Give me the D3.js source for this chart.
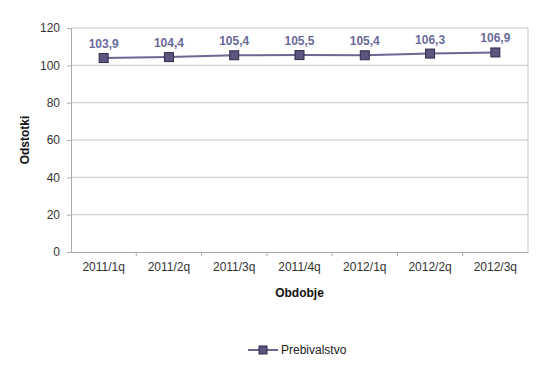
<!DOCTYPE html>
<html>
<head>
<meta charset="utf-8">
<script src="https://cdn.jsdelivr.net/npm/d3@7"></script>
<style>
  body { margin: 0; background: #fff; }
  text { font-family: "Liberation Sans", Arial, sans-serif; }
</style>
</head>
<body>
<div id="chart"></div>
<script>
const periods = ["2011/1q", "2011/2q", "2011/3q", "2011/4q", "2012/1q", "2012/2q", "2012/3q"];
const prebivalstvo = [103.9, 104.4, 105.4, 105.5, 105.4, 106.3, 106.9];
const yTicks = [0, 20, 40, 60, 80, 100, 120];
const seriesName = "Prebivalstvo";

const width = 545, height = 370;
const margin = { top: 28, right: 17, bottom: 118, left: 71 };
const w = width - margin.left - margin.right;
const h = height - margin.top - margin.bottom;

const svg = d3.select("#chart").append("svg")
    .attr("width", width)
    .attr("height", height);

const g = svg.append("g")
    .attr("transform", "translate(" + margin.left + "," + margin.top + ")");

const x = d3.scaleBand().domain(periods).range([0, w]);
const y = d3.scaleLinear().domain([0, 120]).range([h, 0]);

// gridlines
g.selectAll(".grid")
    .data(yTicks.filter(d => d > 0))
    .enter().append("line")
    .attr("x1", 0).attr("x2", w)
    .attr("y1", d => y(d)).attr("y2", d => y(d))
    .attr("stroke", "#c6c6c6");

// right border
g.append("line")
    .attr("x1", w).attr("x2", w)
    .attr("y1", 0).attr("y2", h)
    .attr("stroke", "#c6c6c6");

// y axis
const yAxis = g.append("g")
    .call(d3.axisLeft(y).tickValues(yTicks).tickSize(4).tickPadding(7));
yAxis.select(".domain").attr("stroke", "#aaa");
yAxis.selectAll(".tick line").attr("stroke", "#aaa");
yAxis.selectAll("text").attr("fill", "#333").style("font-size", "12px");

// x axis
const xAxis = g.append("g")
    .attr("transform", "translate(0," + h + ")")
    .call(d3.axisBottom(x).tickSize(0).tickPadding(10));
xAxis.select(".domain").attr("stroke", "#aaa");
xAxis.selectAll("text").attr("fill", "#333").style("font-size", "12px");
// category boundary ticks
g.selectAll(".xb")
    .data(periods.slice(1))
    .enter().append("line")
    .attr("x1", d => x(d)).attr("x2", d => x(d))
    .attr("y1", h).attr("y2", h + 4)
    .attr("stroke", "#aaa");

// axis titles
g.append("text")
    .attr("x", w / 2)
    .attr("y", h + 45)
    .attr("text-anchor", "middle")
    .style("font-size", "12px")
    .style("font-weight", "bold")
    .attr("fill", "#111")
    .text("Obdobje");

g.append("text")
    .attr("transform", "rotate(-90)")
    .attr("x", -h / 2)
    .attr("y", -42)
    .attr("text-anchor", "middle")
    .style("font-size", "12px")
    .style("font-weight", "bold")
    .attr("fill", "#111")
    .text("Odstotki");

// line
const cx = d => x(d) + x.bandwidth() / 2;
const line = d3.line()
    .x((d, i) => cx(periods[i]))
    .y(d => y(d));

g.append("path")
    .datum(prebivalstvo)
    .attr("fill", "none")
    .attr("stroke", "#6b6894")
    .attr("stroke-width", 2)
    .attr("d", line);

g.selectAll(".pt")
    .data(prebivalstvo)
    .enter().append("rect")
    .attr("x", (d, i) => cx(periods[i]) - 4.5)
    .attr("y", d => y(d) - 4.5)
    .attr("width", 9).attr("height", 9)
    .attr("fill", "#5a5680")
    .attr("stroke", "#2e2b4a")
    .attr("stroke-width", 1);

g.selectAll(".lbl")
    .data(prebivalstvo)
    .enter().append("text")
    .attr("x", (d, i) => cx(periods[i]))
    .attr("y", d => y(d) - 10)
    .attr("text-anchor", "middle")
    .style("font-size", "12px")
    .style("font-weight", "bold")
    .attr("fill", "#6a6a9a")
    .text(d => d.toFixed(1).replace(".", ","));

// legend
const lg = svg.append("g").attr("transform", "translate(248,350)");
lg.append("line")
    .attr("x1", 0).attr("x2", 30).attr("y1", 0).attr("y2", 0)
    .attr("stroke", "#6b6894").attr("stroke-width", 2);
lg.append("rect")
    .attr("x", 11).attr("y", -4).attr("width", 8).attr("height", 8)
    .attr("fill", "#5a5680").attr("stroke", "#2e2b4a");
lg.append("text")
    .attr("x", 33).attr("y", 4)
    .style("font-size", "12px")
    .attr("fill", "#222")
    .text(seriesName);
</script>
</body>
</html>
